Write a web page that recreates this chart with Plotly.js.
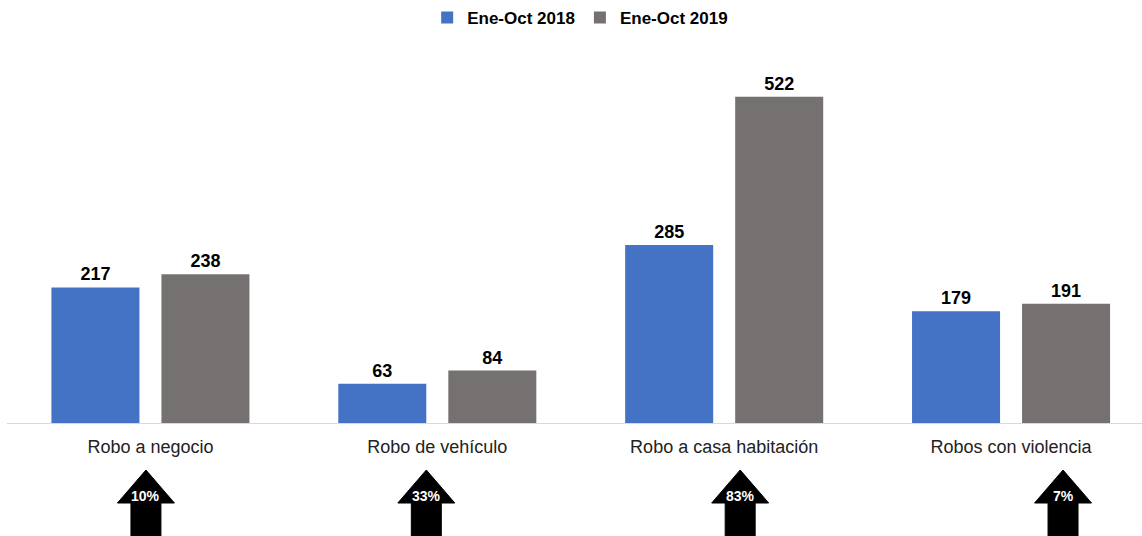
<!DOCTYPE html>
<html>
<head>
<meta charset="utf-8">
<script src="https://cdn.plot.ly/plotly-3.0.1.min.js"></script>
<style>
  html, body { margin: 0; padding: 0; background: #fff; }
  #chart { width: 1142px; height: 536px; }
</style>
</head>
<body>
<div id="chart"></div>
<script>
// Robos: comparativo Ene-Oct 2018 vs 2019
var categorias = ['Robo a negocio', 'Robo de vehículo', 'Robo a casa habitación', 'Robos con violencia'];
var serie2018 = [217, 63, 285, 179];
var serie2019 = [238, 84, 522, 191];
var nombres = ['Ene-Oct 2018', 'Ene-Oct 2019'];

var CHART = document.getElementById('chart');

var data = [{
    x: categorias,
    y: serie2018,
    name: nombres[0],
    type: 'bar',
    marker: { color: '#4472C4' },
    text: serie2018.map(String),
    textposition: 'outside',
    cliponaxis: false,
    textfont: { size: 18, color: '#000', weight: 'bold' }
}, {
    x: categorias,
    y: serie2019,
    name: nombres[1],
    type: 'bar',
    marker: { color: '#767171' },
    text: serie2019.map(String),
    textposition: 'outside',
    cliponaxis: false,
    textfont: { size: 18, color: '#000', weight: 'bold' }
}];

// plot area geometry (px) used to place the arrows under each category
var plotLeft = 6.5, plotWidth = 1135.5, plotBottom = 423, plotHeight = 375, slot = 287;
var arrowShift = [-4.5, -11, 16, 52];

function px2x(px) { return (px - plotLeft) / plotWidth; }
function py2y(py) { return (plotBottom - py) / plotHeight; }

var shapes = [];
var annotations = [];
categorias.forEach(function (c, i) {
    var cx = plotLeft + (i + 0.5) * slot + arrowShift[i];
    var tip = 470, base = 503, bottom = 540, hw = 28.5, sw = 15;
    var pts = [
        [cx, tip], [cx + hw, base], [cx + sw, base], [cx + sw, bottom],
        [cx - sw, bottom], [cx - sw, base], [cx - hw, base]
    ];
    var path = 'M' + pts.map(function (p) { return px2x(p[0]) + ',' + py2y(p[1]); }).join(' L') + ' Z';
    shapes.push({
        type: 'path', xref: 'paper', yref: 'paper', path: path,
        fillcolor: '#000', line: { color: '#000', width: 1 }
    });
    var pct = Math.round((serie2019[i] / serie2018[i] - 1) * 100);
    annotations.push({
        xref: 'paper', yref: 'paper', x: px2x(cx), y: py2y(496),
        text: '<b>' + pct + '%</b>', showarrow: false,
        font: { size: 14, color: '#fff' }, xanchor: 'center', yanchor: 'middle'
    });
});

var layout = {
    width: 1142,
    height: 536,
    margin: { l: 6.5, r: 0, t: 48, b: 113 },
    paper_bgcolor: '#fff',
    plot_bgcolor: '#fff',
    font: { family: 'Liberation Sans, Arial, sans-serif', color: '#000' },
    barmode: 'group',
    bargap: 0.233,
    bargroupgap: 0.2,
    showlegend: true,
    legend: {
        orientation: 'h', x: 0.505, xanchor: 'center', y: py2y(18), yanchor: 'middle',
        font: { size: 17, weight: 'bold' }, itemwidth: 30, traceorder: 'normal'
    },
    xaxis: {
        range: [-0.5, -0.5 + plotWidth / slot],
        showline: true, linecolor: '#d9d9d9', linewidth: 1,
        ticks: 'outside', ticklen: 7, tickcolor: 'rgba(0,0,0,0)',
        tickfont: { size: 18, color: '#222' },
        showgrid: false, zeroline: false, fixedrange: true
    },
    yaxis: {
        range: [0, 600], visible: false, showgrid: false, zeroline: false
    },
    shapes: shapes,
    annotations: annotations
};

var config = { responsive: false, displayModeBar: false, staticPlot: true };

Plotly.newPlot(CHART, data, layout, config);
</script>
</body>
</html>
